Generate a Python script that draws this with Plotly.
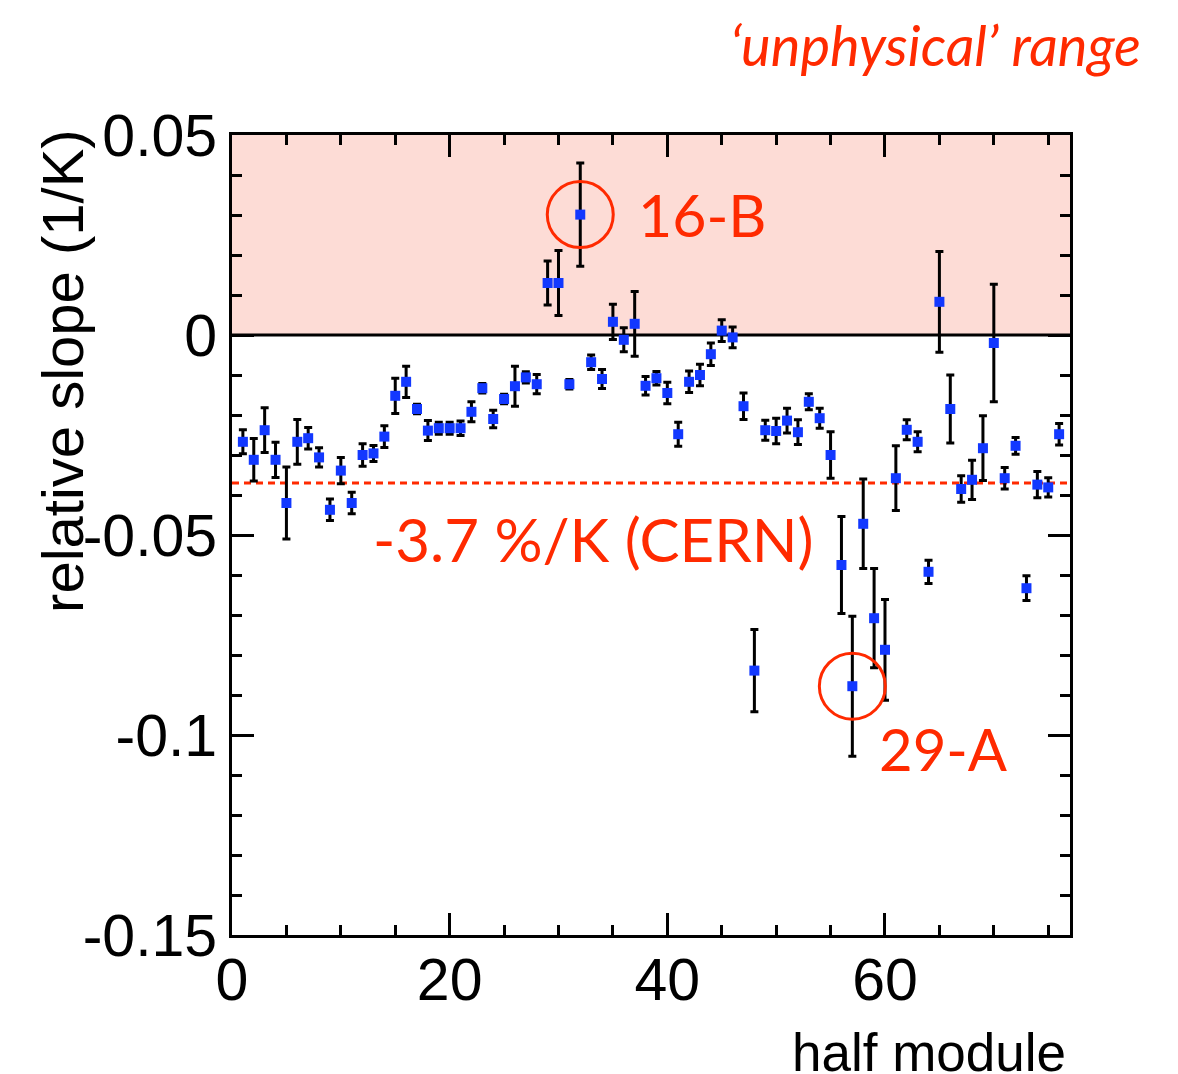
import plotly.graph_objects as go

# Temperature slope per half module
half_module = list(range(1, 77))
slope = [
    -0.0267, -0.0312, -0.0238, -0.0312, -0.0420, -0.0267, -0.0258, -0.0306, -0.0437, -0.0339,
    -0.0420, -0.0300, -0.0296, -0.0254, -0.0152, -0.0117, -0.0185, -0.0239, -0.0233, -0.0233,
    -0.0233, -0.0192, -0.0133, -0.0210, -0.0160, -0.0128, -0.0106, -0.0123, 0.0130, 0.0130,
    -0.0123, 0.0301, -0.0068, -0.0110, 0.0033, -0.0012, 0.0028, -0.0127, -0.0108, -0.0145,
    -0.0248, -0.0117, -0.0100, -0.0048, 0.0011, -0.0006, -0.0178, -0.0839, -0.0238, -0.0240,
    -0.0214, -0.0243, -0.0167, -0.0208, -0.0300, -0.0575, -0.0878, -0.0472, -0.0708, -0.0787,
    -0.0358, -0.0237, -0.0267, -0.0592, 0.0083, -0.0185, -0.0385, -0.0362, -0.0283, -0.0020,
    -0.0358, -0.0277, -0.0633, -0.0374, -0.0381, -0.0248,
]
slope_err = [
    0.0030, 0.0053, 0.0056, 0.0044, 0.0090, 0.0056, 0.0027, 0.0024, 0.0027, 0.0033,
    0.0027, 0.0028, 0.0020, 0.0027, 0.0044, 0.0039, 0.0012, 0.0025, 0.0015, 0.0015,
    0.0018, 0.0025, 0.0012, 0.0022, 0.0012, 0.0050, 0.0014, 0.0024, 0.0055, 0.0081,
    0.0012, 0.0129, 0.0018, 0.0024, 0.0044, 0.0030, 0.0081, 0.0023, 0.0017, 0.0027,
    0.0030, 0.0027, 0.0027, 0.0028, 0.0027, 0.0026, 0.0033, 0.0103, 0.0025, 0.0032,
    0.0031, 0.0031, 0.0020, 0.0025, 0.0058, 0.0121, 0.0175, 0.0112, 0.0124, 0.0126,
    0.0081, 0.0025, 0.0025, 0.0029, 0.0126, 0.0085, 0.0033, 0.0049, 0.0081, 0.0147,
    0.0027, 0.0021, 0.0031, 0.0033, 0.0024, 0.0027,
]

cern_slope = -0.037
x_range = [0, 77]
y_range = [-0.15, 0.05]
x_ticks = [0, 20, 40, 60]
y_ticks = [-0.15, -0.1, -0.05, 0, 0.05]
y_tick_text = ["-0.15", "-0.1", "-0.05", "0", "0.05"]
flagged = {"16-B": 32, "29-A": 57}

RED = "#ff2a00"
LABEL_FONT = "Lato, Open Sans, sans-serif"
AXIS_FONT = "Liberation Sans, Arial, sans-serif"

fig = go.Figure()

fig.add_trace(go.Scatter(
    x=half_module, y=slope, mode="markers",
    marker=dict(symbol="square", size=10, color="#1238ff", line=dict(width=0)),
    error_y=dict(type="data", array=slope_err, color="black", thickness=3, width=4),
    showlegend=False, cliponaxis=True,
))

# shaded unphysical region above zero
fig.add_shape(type="rect", xref="x", yref="y", x0=x_range[0], x1=x_range[1], y0=0, y1=y_range[1],
              fillcolor="#fddcd6", line=dict(width=0), layer="below")
fig.add_shape(type="line", xref="x", yref="y", x0=x_range[0], x1=x_range[1], y0=0, y1=0,
              line=dict(color="black", width=3), layer="below")
fig.add_shape(type="line", xref="x", yref="y", x0=x_range[0], x1=x_range[1], y0=cern_slope, y1=cern_slope,
              line=dict(color=RED, width=3, dash="7px,5px"), layer="below")

# circles around the flagged modules
for name, hm in flagged.items():
    yv = slope[half_module.index(hm)]
    fig.add_shape(type="circle", xref="x", yref="y", xsizemode="pixel", ysizemode="pixel",
                  xanchor=hm, yanchor=yv, x0=-33, x1=33, y0=-33, y1=33,
                  line=dict(color=RED, width=3))

hm16 = flagged["16-B"]
fig.add_annotation(x=hm16, y=slope[half_module.index(hm16)], text="16-B", showarrow=False,
                   xanchor="left", yanchor="middle", xshift=56,
                   font=dict(family=LABEL_FONT, size=59, color=RED))
hm29 = flagged["29-A"]
fig.add_annotation(x=hm29, y=slope[half_module.index(hm29)], text="29-A", showarrow=False,
                   xanchor="left", yanchor="middle", xshift=25, yshift=-62,
                   font=dict(family=LABEL_FONT, size=58, color=RED))
fig.add_annotation(x=12.8, y=-0.051, text="-3.7 %/K (CERN)", showarrow=False,
                   xanchor="left", yanchor="middle",
                   font=dict(family=LABEL_FONT, size=60, color=RED))
fig.add_annotation(xref="paper", yref="paper", x=1.087, y=1.113, text="<i>‘unphysical’ range</i>",
                   showarrow=False, xanchor="right", yanchor="middle",
                   font=dict(family=LABEL_FONT, size=56, color=RED))

# axis titles
fig.add_annotation(xref="paper", yref="paper", x=0.9976, y=-0.1075, text="half module", showarrow=False,
                   xanchor="right", yanchor="top",
                   font=dict(family=AXIS_FONT, size=53, color="black"))
fig.add_annotation(xref="paper", yref="paper", x=-0.203, y=0.705, text="relative slope (1/K)",
                   showarrow=False, textangle=-90, xanchor="center", yanchor="middle",
                   font=dict(family=AXIS_FONT, size=58, color="black"))

axis_common = dict(showgrid=False, zeroline=False, showline=True, linecolor="black", linewidth=3,
                   mirror="allticks", ticks="inside", tickcolor="black", tickwidth=3, ticklen=22,
                   tickfont=dict(family=AXIS_FONT, size=59, color="black"))

fig.update_xaxes(range=x_range, tickvals=x_ticks, ticktext=[str(v) for v in x_ticks],
                 ticklabelstandoff=-9,
                 minor=dict(dtick=5, tick0=0, ticks="inside", ticklen=10, tickwidth=3, tickcolor="black"),
                 **axis_common)
fig.update_yaxes(range=y_range, tickvals=y_ticks, ticktext=y_tick_text,
                 minor=dict(dtick=0.01, tick0=0, ticks="inside", ticklen=10, tickwidth=3, tickcolor="black"),
                 **axis_common)

fig.update_layout(width=1178, height=1074, margin=dict(l=232, r=108, t=135, b=139),
                  plot_bgcolor="white", paper_bgcolor="white")

fig.write_html("out.html")
